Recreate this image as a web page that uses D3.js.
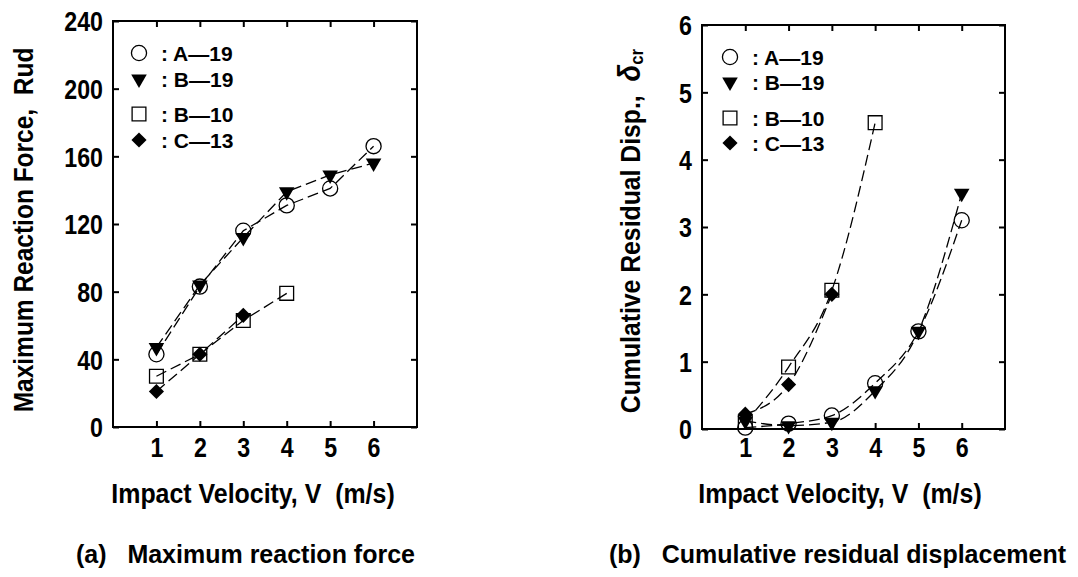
<!DOCTYPE html>
<html>
<head>
<meta charset="UTF-8">
<script src="https://cdn.jsdelivr.net/npm/d3@7"></script>
<style>
	body { margin: 0; background: #fff; }
	svg text { fill: #000; }
	.lab { font-family: "Liberation Sans", Arial, sans-serif; font-weight: bold; }
	.caption { font-family: "Liberation Sans", Arial, sans-serif; font-weight: bold; font-size: 25px; }
</style>
</head>
<body>
<svg id="chart" width="1078" height="577"></svg>
<script>
const velocity = [1, 2, 3, 4, 5, 6];
const specimens = ['A—19', 'B—19', 'B—10', 'C—13'];

// (a) maximum reaction force
const forceA19 = [43, 83, 116, 131, 141, 166];
const forceB19 = [47, 84, 112, 139, 149, 156];
const forceB10 = [30, 43, 63, 79];
const forceC13 = [21, 43, 66];

// (b) cumulative residual displacement
const dispA19 = [0.02, 0.08, 0.2, 0.68, 1.45, 3.1];
const dispB19 = [0.12, 0.05, 0.1, 0.57, 1.45, 3.5];
const dispB10 = [0.1, 0.92, 2.06, 4.55];
const dispC13 = [0.22, 0.66, 2.0];

const forceTicks = [0, 40, 80, 120, 160, 200, 240];
const dispTicks = [0, 1, 2, 3, 4, 5, 6];

const svg = d3.select('#chart');
const squeeze = 0.86;

function marker(sel, kind) {
	if (kind === 'circle') {
		sel.attr('d', d3.symbol(d3.symbolCircle, 180)()).attr('fill', 'none').attr('stroke', '#000').attr('stroke-width', 1.3);
	} else if (kind === 'square') {
		sel.attr('d', d3.symbol(d3.symbolSquare, 190)()).attr('fill', 'none').attr('stroke', '#000').attr('stroke-width', 1.3);
	} else if (kind === 'triangle') {
		sel.attr('d', d3.symbol(d3.symbolTriangle, 105)()).attr('fill', '#000');
	} else {
		sel.attr('d', d3.symbol(d3.symbolSquare, 115)()).attr('fill', '#000');
	}
}

function turn(kind) {
	return kind === 'triangle' ? ' rotate(180)' : kind === 'diamond' ? ' rotate(45)' : '';
}

function panel(opts) {
	const x = d3.scaleLinear([0, 7], [opts.left, opts.right]);
	const y = d3.scaleLinear([opts.ticks[0], opts.ticks[opts.ticks.length - 1]], [opts.bottom, opts.top]);
	const g = svg.append('g');

	// frame
	g.append('rect')
		.attr('x', opts.left).attr('y', opts.top)
		.attr('width', opts.right - opts.left).attr('height', opts.bottom - opts.top)
		.attr('fill', 'none').attr('stroke', '#000').attr('stroke-width', 2);

	// inward ticks on all four sides
	const fmt = d3.format('d');
	const axes = [
		[d3.axisBottom(x).tickValues(velocity).tickSize(-6).tickFormat(fmt), 'translate(0,' + opts.bottom + ')'],
		[d3.axisTop(x).tickValues(velocity).tickSize(-6).tickFormat(''), 'translate(0,' + opts.top + ')'],
		[d3.axisLeft(y).tickValues(opts.ticks).tickSize(-6).tickFormat(fmt), 'translate(' + opts.left + ',0)'],
		[d3.axisRight(y).tickValues(opts.ticks).tickSize(-6).tickFormat(''), 'translate(' + opts.right + ',0)']
	];
	axes.forEach((a, i) => {
		const ax = g.append('g').attr('transform', a[1]).call(a[0]);
		ax.select('.domain').remove();
		ax.selectAll('line').attr('stroke', '#000').attr('stroke-width', 2);
		ax.selectAll('text').attr('class', 'lab').attr('fill', '#000').attr('font-family', null).attr('font-size', 27);
		if (i === 0) ax.selectAll('text').attr('dy', null).attr('y', 457 - opts.bottom).attr('transform', 'scale(' + squeeze + ',1)');
		if (i === 2) ax.selectAll('text').attr('x', -10 / squeeze).attr('dy', '0.36em').attr('transform', 'scale(' + squeeze + ',1)');
	});

	// dashed curves
	const line = d3.line()
		.x((d, i) => x(velocity[i]))
		.y((d) => y(d))
		.curve(opts.curve);
	opts.series.forEach((s) => {
		g.append('path')
			.datum(s.values)
			.attr('fill', 'none')
			.attr('stroke', '#000')
			.attr('stroke-width', 1.3)
			.attr('stroke-dasharray', '11,5')
			.attr('d', line);
	});

	// markers
	opts.series.forEach((s) => {
		g.selectAll(null)
			.data(s.values)
			.enter().append('path')
			.attr('transform', (d, i) => 'translate(' + x(velocity[i]) + ',' + y(d) + ')' + turn(s.kind))
			.call(marker, s.kind);
	});

	// legend
	const lg = g.append('g').attr('transform', 'translate(' + opts.legend[0] + ',' + opts.legend[1] + ')');
	opts.rows.forEach((r, i) => {
		const s = opts.series[i];
		lg.append('path')
			.attr('transform', 'translate(0,' + r + ')' + turn(s.kind))
			.call(marker, s.kind);
		lg.append('text')
			.attr('class', 'lab')
			.attr('x', 22).attr('y', r)
			.attr('dy', '0.36em')
			.attr('font-size', 21)
			.text(': ' + specimens[i]);
	});

	// x title
	g.append('text')
		.attr('class', 'lab')
		.attr('transform', 'translate(' + opts.xtitle + ',503) scale(0.89,1)')
		.attr('text-anchor', 'middle')
		.attr('font-size', 28)
		.attr('xml:space', 'preserve')
		.text('Impact Velocity, V  (m/s)');

	// caption
	g.append('text')
		.attr('class', 'caption')
		.attr('x', opts.caption[0]).attr('y', 563)
		.attr('xml:space', 'preserve')
		.text(opts.caption[1]);

	return g;
}

const ga = panel({
	left: 113, right: 417, top: 21, bottom: 427,
	ticks: forceTicks,
	curve: d3.curveLinear,
	series: [
		{ kind: 'circle', values: forceA19 },
		{ kind: 'triangle', values: forceB19 },
		{ kind: 'square', values: forceB10 },
		{ kind: 'diamond', values: forceC13 }
	],
	legend: [139, 53],
	rows: [0, 26, 61, 87],
	xtitle: 253,
	caption: [76, '(a)   Maximum reaction force']
});

ga.append('text')
	.attr('class', 'lab')
	.attr('transform', 'translate(33,230) rotate(-90) scale(0.875,1)')
	.attr('text-anchor', 'middle')
	.attr('font-size', 28)
	.attr('xml:space', 'preserve')
	.text('Maximum Reaction Force,  Rud');

const gb = panel({
	left: 702, right: 1005, top: 25, bottom: 429,
	ticks: dispTicks,
	curve: d3.curveMonotoneX,
	series: [
		{ kind: 'circle', values: dispA19 },
		{ kind: 'triangle', values: dispB19 },
		{ kind: 'square', values: dispB10 },
		{ kind: 'diamond', values: dispC13 }
	],
	legend: [730, 57],
	rows: [0, 25, 61, 86],
	xtitle: 840,
	caption: [609, '(b)   Cumulative residual displacement']
});

const yb = gb.append('text')
	.attr('class', 'lab')
	.attr('transform', 'translate(640,231) rotate(-90) scale(0.885,1)')
	.attr('text-anchor', 'middle')
	.attr('font-size', 28)
	.attr('xml:space', 'preserve');
yb.append('tspan').text('Cumulative Residual Disp.,  ');
yb.append('tspan').attr('font-style', 'italic').attr('font-size', 31).text('δ');
yb.append('tspan').attr('font-size', 19).attr('dy', 3).text('cr');
</script>
</body>
</html>
